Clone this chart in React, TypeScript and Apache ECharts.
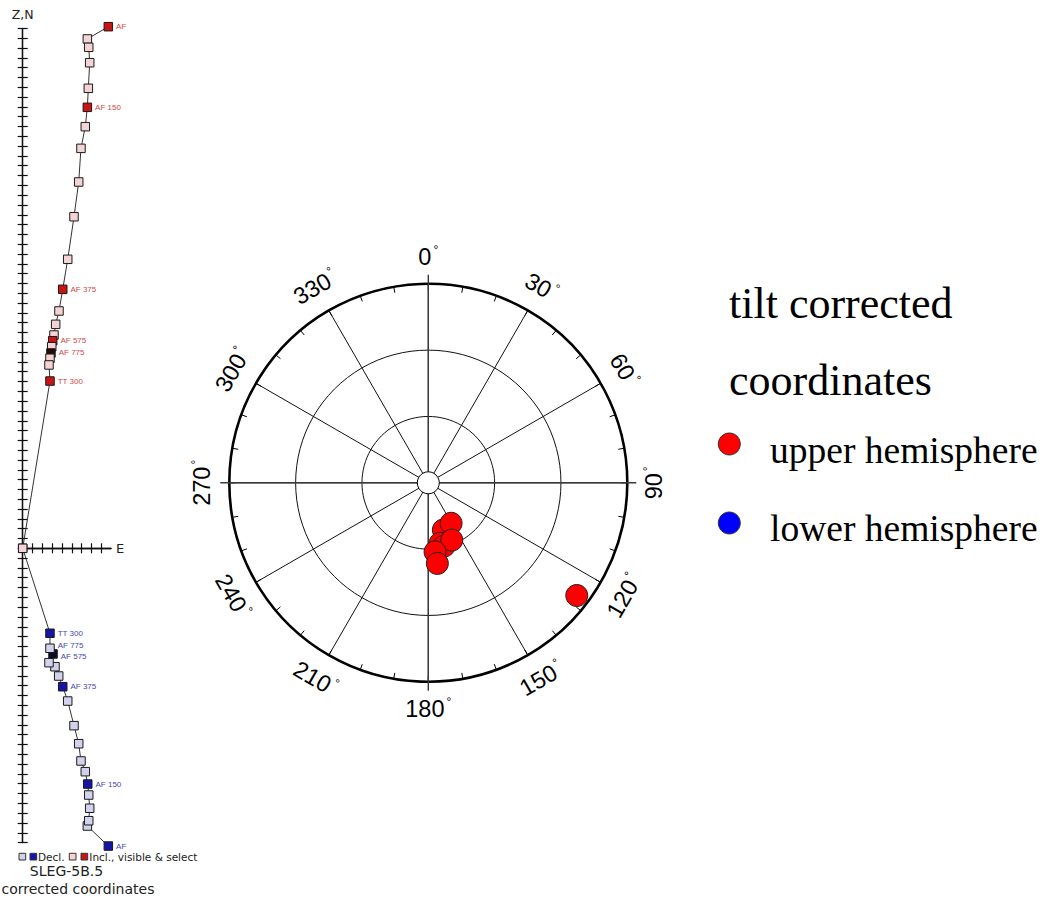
import React, { useEffect, useRef } from 'react';
import * as echarts from 'echarts';

// ---------- Zijderveld diagram (left) ----------
// Inclination projection (upper branch, pink/red), from NRM ("AF") to origin
const inclE = [8.73, 6.59, 6.73, 6.83, 6.69, 6.59, 6.38, 5.94, 5.71, 5.23, 4.59, 4.08, 3.70, 3.36, 3.19, 3.06, 2.96, 2.88, 2.78, 2.68, 2.78, 0];
const inclN = [53.17, 51.92, 51.07, 49.50, 46.89, 44.95, 42.98, 40.77, 37.34, 33.80, 29.46, 26.40, 24.19, 22.83, 21.74, 21.16, 20.55, 19.91, 19.37, 18.69, 17.05, 0];
const inclTags = ['AF', '', '', '', '', 'AF 150', '', '', '', '', '', 'AF 375', '', '', '', 'AF 575', '', 'AF 775', '', '', 'TT 300', ''];
const inclFill = [1, 0, 0, 0, 0, 1, 0, 0, 0, 0, 0, 1, 0, 0, 0, 1, 0, 2, 0, 0, 1, 0];

// Declination projection (lower branch, lavender/blue)
const declE = [8.73, 6.59, 6.73, 6.83, 6.73, 6.63, 6.38, 5.94, 5.71, 5.23, 4.59, 4.08, 3.67, 3.29, 2.68, 3.09, 2.78, 2.78, 0];
const declN = [-30.35, -28.31, -27.77, -26.50, -25.15, -24.03, -22.77, -21.68, -19.92, -18.08, -15.57, -14.11, -13.02, -12.07, -11.66, -10.77, -10.19, -8.66, 0];
const declTags = ['AF', '', '', '', '', 'AF 150', '', '', '', '', '', 'AF 375', '', '', '', 'AF 575', 'AF 775', 'TT 300', ''];
const declFill = [1, 0, 0, 0, 0, 1, 0, 0, 0, 0, 0, 1, 0, 0, 0, 2, 0, 1, 0];

const zijYTicksMin = -30;
const zijYTicksMax = 53;
const zijXMax = 9;
const eTicks = [1, 2, 3, 4, 5, 6, 7, 8];

// ---------- Stereonet (centre) ----------
const upperDec = [162.3, 150.6, 169.0, 166.0, 157.7, 174.4, 173.6, 127.2];
const upperColat = [22.4, 21.0, 27.9, 29.5, 28.0, 31.4, 36.7, 84.3];
const lowerDec: number[] = [];
const lowerColat: number[] = [];
const angleLabels = [0, 30, 60, 90, 120, 150, 180, 210, 240, 270, 300, 330];
const cardinals = [0, 90, 180, 270];

// ---------- layout constants ----------
const ZX = 22.7;
const ZY = 548.3;
const U = 9.81;
const CX = 428.3;
const CY = 482.8;
const R = 199;
const LABEL_R = 226;

const SANS = 'DejaVu Sans';
const HELV = 'Liberation Sans';
const SERIF = 'Liberation Serif';

const fillUpper = ['#f3d3d3', '#c81414', '#2a0808'];
const fillLower = ['#d2d2ec', '#1616a6', '#0c0c2a'];

// small vertical nudges (px) for crowded labels
const declLabelNudge: Record<number, number> = { 15: 2.5, 16: -2.5 };
const inclLabelNudge: Record<number, number> = {};

function buildZij(
  E: number[],
  N: number[],
  tags: string[],
  fills: number[],
  palette: string[],
  labelColor: string,
  nudge: Record<number, number>
) {
  return E.map((x, i) => {
    const item: any = {
      value: [x, N[i]],
      itemStyle: { color: palette[fills[i]] },
    };
    if (tags[i]) {
      item.label = {
        show: true,
        formatter: tags[i],
        position: 'right',
        distance: 3,
        offset: [0, nudge[i] || 0],
        fontSize: 8,
        fontFamily: HELV,
        color: labelColor,
      };
    }
    return item;
  });
}

function labelRotation(a: number) {
  const cw = ((a + 90) % 180) - 90;
  return (-cw * Math.PI) / 180;
}

export default function App() {
  const ref = useRef<HTMLDivElement>(null);

  useEffect(() => {
    if (!ref.current) return;
    const chart = echarts.init(ref.current, undefined, { renderer: 'svg' });

    const axisLineStyle = { color: '#111', width: 1.3 };
    const tickStyle = { color: '#111', width: 1.2 };

    const graphics: any[] = [];

    // cardinal lines through the net, extending past the rim
    cardinals.forEach((a) => {
      const s = Math.sin((a * Math.PI) / 180);
      const c = Math.cos((a * Math.PI) / 180);
      graphics.push({
        type: 'line',
        z: 40,
        shape: { x1: CX + s * 11, y1: CY - c * 11, x2: CX + s * (R + 9), y2: CY - c * (R + 9) },
        style: { stroke: '#3a3a3a', lineWidth: 1.4 },
        silent: true,
      });
    });
    // small central circle
    graphics.push({
      type: 'circle',
      z: 45,
      shape: { cx: CX, cy: CY, r: 11 },
      style: { fill: '#fff', stroke: '#000', lineWidth: 1 },
      silent: true,
    });
    // angle labels
    angleLabels.forEach((a) => {
      const s = Math.sin((a * Math.PI) / 180);
      const c = Math.cos((a * Math.PI) / 180);
      graphics.push({
        type: 'text',
        z: 45,
        x: CX + s * LABEL_R,
        y: CY - c * LABEL_R,
        rotation: labelRotation(a),
        style: {
          text: '{n|' + a + '}{d|°}',
          align: 'center',
          verticalAlign: 'middle',
          fill: '#000',
          rich: {
            n: { fontSize: 23.5, fontFamily: HELV, lineHeight: 25, fill: '#000' },
            d: { fontSize: 12, fontFamily: HELV, verticalAlign: 'top', padding: [0, 0, 0, 2], fill: '#000' },
          },
        },
        silent: true,
      });
    });

    // right legend
    graphics.push(
      { type: 'text', x: 729, y: 303, style: { text: 'tilt corrected', fontSize: 44, fontFamily: SERIF, fill: '#000', align: 'left', verticalAlign: 'middle' } },
      { type: 'text', x: 729, y: 380, style: { text: 'coordinates', fontSize: 44, fontFamily: SERIF, fill: '#000', align: 'left', verticalAlign: 'middle' } },
      { type: 'circle', shape: { cx: 729.3, cy: 444, r: 11 }, style: { fill: '#ff0000', stroke: '#333', lineWidth: 1 } },
      { type: 'text', x: 770, y: 450, style: { text: 'upper hemisphere', fontSize: 37.5, fontFamily: SERIF, fill: '#000', align: 'left', verticalAlign: 'middle' } },
      { type: 'circle', shape: { cx: 729.3, cy: 523, r: 11 }, style: { fill: '#0000ff', stroke: '#333', lineWidth: 1 } },
      { type: 'text', x: 770, y: 528.5, style: { text: 'lower hemisphere', fontSize: 37.5, fontFamily: SERIF, fill: '#000', align: 'left', verticalAlign: 'middle' } }
    );

    // bottom-left legend
    graphics.push(
      { type: 'rect', shape: { x: 19, y: 853.3, width: 6.7, height: 6.7 }, style: { fill: fillLower[0], stroke: '#333', lineWidth: 1 } },
      { type: 'rect', shape: { x: 30, y: 853.3, width: 6.7, height: 6.7 }, style: { fill: fillLower[1], stroke: '#333', lineWidth: 1 } },
      { type: 'text', x: 38, y: 857, style: { text: 'Decl.', fontSize: 10.5, fontFamily: SANS, fill: '#222', align: 'left', verticalAlign: 'middle' } },
      { type: 'rect', shape: { x: 69.3, y: 853.3, width: 6.7, height: 6.7 }, style: { fill: fillUpper[0], stroke: '#333', lineWidth: 1 } },
      { type: 'rect', shape: { x: 81, y: 853.3, width: 6.7, height: 6.7 }, style: { fill: fillUpper[1], stroke: '#333', lineWidth: 1 } },
      { type: 'text', x: 89.3, y: 857, style: { text: 'Incl., visible & select', fontSize: 10.5, fontFamily: SANS, fill: '#222', align: 'left', verticalAlign: 'middle' } },
      { type: 'text', x: 66.5, y: 871, style: { text: 'SLEG-5B.5', fontSize: 14, fontFamily: SANS, fill: '#222', align: 'center', verticalAlign: 'middle' } },
      { type: 'text', x: 1.5, y: 888.5, style: { text: 'corrected coordinates', fontSize: 14, fontFamily: SANS, fill: '#222', align: 'left', verticalAlign: 'middle' } }
    );

    const option: any = {
      animation: false,
      backgroundColor: '#ffffff',
      grid: [
        {
          left: ZX,
          top: ZY - zijYTicksMax * U,
          width: zijXMax * U,
          height: (zijYTicksMax - zijYTicksMin) * U,
          containLabel: false,
          outerBoundsMode: 'none',
        },
      ],
      xAxis: [
        {
          gridIndex: 0,
          type: 'value',
          min: 0,
          max: zijXMax,
          interval: 1,
          position: 'bottom',
          axisLine: { show: true, onZero: true, onZeroAxisIndex: 0, lineStyle: axisLineStyle },
          axisTick: { show: true, inside: false, length: 5, customValues: eTicks, lineStyle: tickStyle },
          axisLabel: { show: false },
          splitLine: { show: false },
          name: 'E',
          nameLocation: 'end',
          nameGap: 5,
          nameTextStyle: { fontSize: 13, fontFamily: SANS, color: '#222' },
        },
        {
          gridIndex: 0,
          type: 'value',
          min: 0,
          max: zijXMax,
          interval: 1,
          position: 'top',
          axisLine: { show: true, onZero: true, onZeroAxisIndex: 0, lineStyle: axisLineStyle },
          axisTick: { show: true, inside: false, length: 5, customValues: eTicks, lineStyle: tickStyle },
          axisLabel: { show: false },
          splitLine: { show: false },
        },
      ],
      yAxis: [
        {
          gridIndex: 0,
          type: 'value',
          min: zijYTicksMin,
          max: zijYTicksMax,
          interval: 1,
          position: 'left',
          axisLine: { show: true, onZero: true, onZeroAxisIndex: 0, lineStyle: axisLineStyle },
          axisTick: { show: true, inside: false, length: 5, lineStyle: tickStyle },
          axisLabel: { show: false },
          splitLine: { show: false },
          name: 'Z,N',
          nameLocation: 'end',
          nameGap: 7,
          nameTextStyle: { fontSize: 12.5, fontFamily: SANS, color: '#222' },
        },
        {
          gridIndex: 0,
          type: 'value',
          min: zijYTicksMin,
          max: zijYTicksMax,
          interval: 1,
          position: 'right',
          axisLine: { show: true, onZero: true, onZeroAxisIndex: 0, lineStyle: axisLineStyle },
          axisTick: { show: true, inside: false, length: 5, lineStyle: tickStyle },
          axisLabel: { show: false },
          splitLine: { show: false },
        },
      ],
      polar: [
        { center: [CX, CY], radius: R },
        { center: [CX, CY], radius: R },
      ],
      angleAxis: [
        {
          polarIndex: 0,
          type: 'value',
          min: 0,
          max: 360,
          interval: 30,
          startAngle: 90,
          clockwise: true,
          axisLine: { show: false },
          axisTick: { show: false },
          axisLabel: { show: false },
          splitLine: { show: true, lineStyle: { color: '#111', width: 1 } },
        },
        {
          polarIndex: 1,
          type: 'value',
          min: 0,
          max: 360,
          interval: 10,
          startAngle: 90,
          clockwise: true,
          axisLine: { show: true, lineStyle: { color: '#000', width: 2.6 } },
          axisTick: { show: true, inside: true, length: 6, lineStyle: { color: '#000', width: 1 } },
          axisLabel: { show: false },
          splitLine: { show: false },
        },
      ],
      radiusAxis: [
        {
          polarIndex: 0,
          type: 'value',
          min: 0,
          max: 90,
          interval: 30,
          axisLine: { show: false },
          axisTick: { show: false },
          axisLabel: { show: false },
          splitLine: { show: true, lineStyle: { color: '#111', width: 1 } },
        },
        {
          polarIndex: 1,
          type: 'value',
          min: 0,
          max: 90,
          axisLine: { show: false },
          axisTick: { show: false },
          axisLabel: { show: false },
          splitLine: { show: false },
        },
      ],
      series: [
        {
          type: 'line',
          name: 'Decl.',
          xAxisIndex: 0,
          yAxisIndex: 0,
          clip: false,
          silent: true,
          symbol: 'rect',
          symbolSize: 8.5,
          lineStyle: { color: '#333', width: 1 },
          itemStyle: { borderColor: '#1a1a1a', borderWidth: 1 },
          data: buildZij(declE, declN, declTags, declFill, fillLower, '#4646b4', declLabelNudge),
          z: 3,
        },
        {
          type: 'line',
          name: 'Incl.',
          xAxisIndex: 0,
          yAxisIndex: 0,
          clip: false,
          silent: true,
          symbol: 'rect',
          symbolSize: 8.5,
          lineStyle: { color: '#333', width: 1 },
          itemStyle: { borderColor: '#1a1a1a', borderWidth: 1 },
          data: buildZij(inclE, inclN, inclTags, inclFill, fillUpper, '#d04848', inclLabelNudge),
          z: 4,
        },
        {
          type: 'scatter',
          name: 'upper hemisphere',
          coordinateSystem: 'polar',
          polarIndex: 0,
          silent: true,
          symbol: 'circle',
          symbolSize: 22,
          itemStyle: { color: '#ff0000', borderColor: '#222', borderWidth: 1, opacity: 1 },
          data: upperDec.map((d, i) => [upperColat[i], d]),
          z: 60,
        },
        {
          type: 'scatter',
          name: 'lower hemisphere',
          coordinateSystem: 'polar',
          polarIndex: 0,
          silent: true,
          symbol: 'circle',
          symbolSize: 22,
          itemStyle: { color: '#0000ff', borderColor: '#222', borderWidth: 1, opacity: 1 },
          data: lowerDec.map((d, i) => [lowerColat[i], d]),
          z: 60,
        },
      ],
      graphic: { elements: graphics },
    };

    chart.setOption(option);
    return () => {
      chart.dispose();
    };
  }, []);

  return (
    <div
      ref={ref}
      style={{ position: 'fixed', left: 0, top: 0, width: '1045px', height: '898px', background: '#fff' }}
    />
  );
}
